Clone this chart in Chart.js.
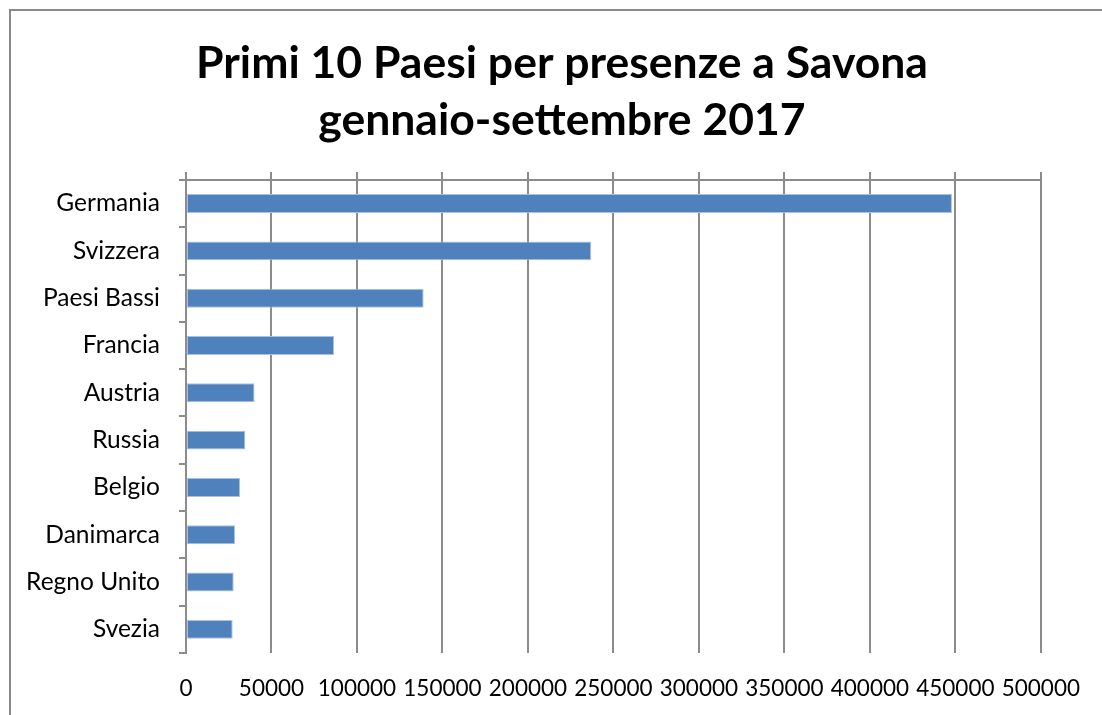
<!DOCTYPE html>
<html lang="it">
<head>
<meta charset="utf-8">
<title>Primi 10 Paesi per presenze a Savona</title>
<script src="https://cdn.jsdelivr.net/npm/chart.js@4/dist/chart.umd.min.js"></script>
<style>
  html, body {
    margin: 0;
    padding: 0;
    background: #fff;
    overflow: hidden;
  }
  .frame {
    position: absolute;
    left: 9px;
    top: 9px;
    width: 1200px;
    height: 800px;
    border: 2px solid #8a8a8a;
  }
  .chart-box {
    position: absolute;
    left: 0;
    top: 0;
    width: 1102px;
    height: 715px;
  }
</style>
</head>
<body>
<div class="frame"></div>
<div class="chart-box"><canvas id="presenzeChart"></canvas></div>
<script>
const countries = ['Germania', 'Svizzera', 'Paesi Bassi', 'Francia', 'Austria', 'Russia', 'Belgio', 'Danimarca', 'Regno Unito', 'Svezia'];
const presenze = [448000, 237000, 139000, 86600, 40100, 34700, 31600, 28700, 27900, 27300];
const xTickLabels = ['0', '50000', '100000', '150000', '200000', '250000', '300000', '350000', '400000', '450000', '500000'];
const titleLines = ['Primi 10 Paesi per presenze a Savona', 'gennaio-settembre 2017'];

const gridColor = '#8c8c8c';
const fontFamily = 'Lato, "Open Sans", sans-serif';

function initChart() {
  const context = document.getElementById('presenzeChart').getContext('2d');

  return new Chart(context, {
    type: 'bar',
    data: {
      labels: countries,
      datasets: [
        {
          label: 'Presenze',
          data: presenze,
          backgroundColor: '#4f81bd',
          borderColor: '#a9c1e0',
          borderWidth: 1,
          borderSkipped: false,
          barPercentage: 0.4,
          categoryPercentage: 1,
        },
      ],
    },
    options: {
      indexAxis: 'y',
      responsive: true,
      maintainAspectRatio: false,
      animation: false,
      layout: {
        padding: { left: 22, right: 0, top: 0, bottom: 0 },
      },
      plugins: {
        legend: { display: false },
        tooltip: { enabled: false },
        title: {
          display: true,
          text: titleLines,
          color: '#000',
          font: { family: fontFamily, size: 44.5, weight: 'bold', lineHeight: 1.28 },
          padding: { top: 35, bottom: 23 },
        },
      },
      scales: {
        x: {
          position: 'bottom',
          min: 0,
          max: 500000,
          border: { display: false },
          grid: {
            color: gridColor,
            lineWidth: 2,
            drawTicks: false,
          },
          ticks: {
            stepSize: 50000,
            autoSkip: false,
            maxRotation: 0,
            padding: 22,
            color: '#000',
            font: { family: fontFamily, size: 22.5 },
            callback: (value, index) => xTickLabels[index],
          },
          afterFit: (scale) => {
            scale.height = 62;
          },
        },
        xTop: {
          type: 'linear',
          axis: 'x',
          position: 'top',
          min: 0,
          max: 500000,
          border: { display: true, color: gridColor, width: 2 },
          grid: {
            color: gridColor,
            lineWidth: 2,
            drawOnChartArea: false,
            tickLength: 8,
          },
          ticks: {
            display: false,
            stepSize: 50000,
          },
        },
        y: {
          border: { display: true, color: gridColor, width: 2 },
          grid: {
            offset: true,
            color: gridColor,
            lineWidth: 2,
            drawOnChartArea: false,
            tickLength: 7,
          },
          ticks: {
            padding: 19,
            color: '#000',
            font: { family: fontFamily, size: 24.5 },
          },
          afterFit: (scale) => {
            scale.width = 164;
          },
        },
        // empty right-hand spacer so the plot stops where the reference does
        ySpacer: {
          type: 'linear',
          axis: 'y',
          position: 'right',
          border: { display: false },
          grid: { display: false },
          ticks: { display: false },
          afterFit: (scale) => {
            scale.width = 55;
          },
        },
      },
    },
  });
}

document.addEventListener('DOMContentLoaded', () => {
  initChart();
});
</script>
</body>
</html>
